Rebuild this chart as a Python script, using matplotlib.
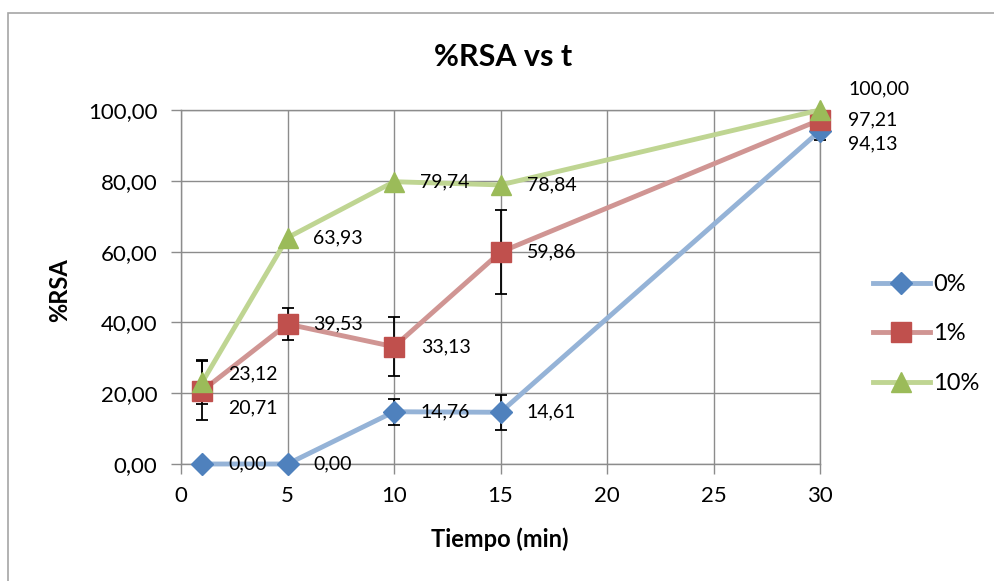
import matplotlib
matplotlib.use("Agg")
import matplotlib.pyplot as plt
from matplotlib.patches import Rectangle

plt.rcParams['font.family'] = ['Lato', 'DejaVu Sans']

# ---- data ----
tiempo = [1, 5, 10, 15, 30]
series_names = ["0%", "1%", "10%"]
rsa_0 = [0.00, 0.00, 14.76, 14.61, 94.13]
rsa_1 = [20.71, 39.53, 33.13, 59.86, 97.21]
rsa_10 = [23.12, 63.93, 79.74, 78.84, 100.00]
err_0 = [0.0, 0.0, 3.7, 5.0, 2.6]
err_1 = [8.3, 4.4, 8.3, 11.8, 0.0]
err_10 = [6.2, 0.0, 0.0, 0.0, 0.0]
x_ticks = [0, 5, 10, 15, 20, 25, 30]
y_ticks = [0, 20, 40, 60, 80, 100]

W, H = 994, 581
fig = plt.figure(figsize=(W / 100, H / 100), dpi=100)
fig.patch.set_facecolor('white')

# outer chart border
fig.patches.append(Rectangle((8 / W, -0.1), 1.2, (1 - 13 / H) + 0.1,
                             transform=fig.transFigure, fill=False,
                             edgecolor='#A6A6A6', linewidth=1.2))

ax = fig.add_axes([181 / W, 1 - 464 / H, (820 - 181) / W, (464 - 110) / H])
ax.set_xlim(0, 30)
ax.set_ylim(0, 100)
ax.set_xticks(x_ticks)
ax.set_yticks(y_ticks)
ax.set_yticklabels([f"{v:.2f}".replace('.', ',') for v in y_ticks])
ax.set_xticklabels([str(v) for v in x_ticks])
ax.grid(True, color='#8C8C8C', linewidth=1.0)
ax.set_axisbelow(True)
for s in ax.spines.values():
    s.set_color('#8C8C8C')
    s.set_linewidth(1.0)
ax.tick_params(axis='both', colors='#8C8C8C', labelcolor='black', labelsize=16,
               length=7, width=1.0, direction='out')
ax.tick_params(axis='y', pad=10)
ax.tick_params(axis='x', pad=9)

line_colors = ['#95B3D7', '#D09593', '#BFD592']
marker_colors = ['#4F81BD', '#C0504D', '#9BBB59']
markers = ['D', 's', '^']
msizes = [11, 14, 14]
data = [rsa_0, rsa_1, rsa_10]
errs = [err_0, err_1, err_10]

handles = []
for vals, er, lc, mc, mk, ms, name in zip(data, errs, line_colors, marker_colors,
                                          markers, msizes, series_names):
    xe = [t for t, e in zip(tiempo, er) if e > 0]
    ye = [v for v, e in zip(vals, er) if e > 0]
    ee = [e for e in er if e > 0]
    ax.errorbar(xe, ye, yerr=ee, fmt='none', ecolor='black', elinewidth=1.3,
                capsize=4.5, capthick=1.3, zorder=2, clip_on=False)
    h, = ax.plot(tiempo, vals, color=lc, linewidth=3.5, marker=mk, markersize=ms,
                 markerfacecolor=mc, markeredgecolor=mc, label=name, zorder=3,
                 clip_on=False)
    handles.append(h)

# data labels
offsets = {
    0: [(26, 0), (26, 0), (26, 0), (26, 0), (28, -13)],
    1: [(26, -17), (26, 0), (27, 0), (26, 0), (28, 0)],
    2: [(26, 8), (26, 0), (26, 0), (26, 0), (28, 21)],
}
for si, vals in enumerate(data):
    for pi, (t, v) in enumerate(zip(tiempo, vals)):
        dx, dy = offsets[si][pi]
        ax.annotate(f"{v:.2f}".replace('.', ','), (t, v), xytext=(dx, dy),
                    textcoords='offset pixels', ha='left', va='center',
                    fontsize=14, color='black', zorder=5, annotation_clip=False)

fig.text(503 / W, 1 - 57 / H, "%RSA vs t", ha='center', va='center',
         fontsize=22, fontweight='bold')
fig.text(500 / W, 1 - 539 / H, "Tiempo (min)", ha='center', va='center',
         fontsize=17, fontweight='bold')
fig.text(60 / W, 1 - 290 / H, "%RSA", ha='center', va='center', rotation=90,
         fontsize=17, fontweight='bold')

leg = fig.legend(handles=handles, labels=series_names, loc='center left',
                 bbox_to_anchor=(873 / W, 1 - 334 / H), frameon=False,
                 fontsize=17, handlelength=2.4, handletextpad=0.15,
                 labelspacing=1.2, borderpad=0, borderaxespad=0)

fig.savefig("out.png", dpi=100, facecolor='white')
